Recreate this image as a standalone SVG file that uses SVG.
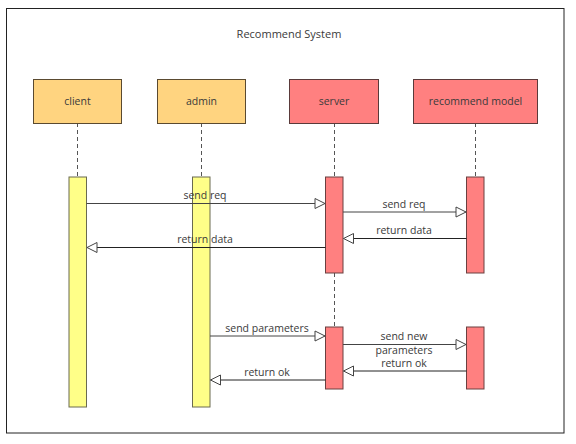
<svg xmlns="http://www.w3.org/2000/svg" width="576" height="444" viewBox="0 0 576 444">
  <style>
    text { font-family: "Open Sans", "Noto Sans", "Liberation Sans", sans-serif; font-size: 10.5px; fill: #3a3a3a; }
    .title { font-size: 11px; }
    .mid { text-anchor: middle; }
    .actor-a { fill: #ffd480; stroke: #5a4a30; stroke-width: 1; }
    .actor-b { fill: #ff8080; stroke: #5a3a3a; stroke-width: 1; }
    .bar-a { fill: #ffff88; stroke: #6a6a50; stroke-width: 1; }
    .bar-b { fill: #ff8080; stroke: #6a4040; stroke-width: 1; }
    .life { stroke: #555; stroke-width: 1; stroke-dasharray: 4 3; fill: none; }
    .msg { stroke: #444; stroke-width: 1; fill: none; marker-end: url(#open); }
    .ret { stroke: #222; stroke-width: 1; fill: none; marker-end: url(#open); }
  </style>
  <defs>
    <marker id="open" viewBox="0 0 12 12" refX="11" refY="6" markerWidth="12" markerHeight="12" markerUnits="userSpaceOnUse" orient="auto">
      <path d="M1,1 L11,6 L1,11 Z" fill="#fff" stroke="#444" stroke-width="1"/>
    </marker>
  </defs>

  <rect width="576" height="444" fill="#fff"/>
  <!-- frame -->
  <rect x="6.5" y="8.5" width="557.5" height="424.5" fill="none" stroke="#222" stroke-width="1"/>
  <text class="title mid" x="289" y="38">Recommend System</text>

  <!-- lifelines -->
  <g id="lifelines">
    <line class="life" x1="77.5" y1="123" x2="77.5" y2="177"/>
    <line class="life" x1="201.5" y1="123" x2="201.5" y2="177"/>
    <line class="life" x1="334.5" y1="123" x2="334.5" y2="177"/>
    <line class="life" x1="334.5" y1="273" x2="334.5" y2="327"/>
    <line class="life" x1="475.5" y1="123" x2="475.5" y2="177"/>
  </g>

  <g id="client">
    <rect class="actor-a" x="33.5" y="79.5" width="88" height="44"/>
    <text class="mid" x="77.5" y="105">client</text>
    <rect class="bar-a" x="69" y="177" width="17.5" height="230"/>
  </g>
  <g id="admin">
    <rect class="actor-a" x="157.5" y="79.5" width="88" height="44"/>
    <text class="mid" x="201.5" y="105">admin</text>
    <rect class="bar-a" x="192.5" y="177" width="17.5" height="230"/>
  </g>
  <g id="server">
    <rect class="actor-b" x="289.5" y="79.5" width="89" height="44"/>
    <text class="mid" x="334" y="105">server</text>
    <rect class="bar-b" x="325.5" y="177" width="17.5" height="96"/>
    <rect class="bar-b" x="325.5" y="327" width="17.5" height="62"/>
  </g>
  <g id="recommend-model">
    <rect class="actor-b" x="413.5" y="79.5" width="124" height="44"/>
    <text class="mid" x="475.5" y="105">recommend model</text>
    <rect class="bar-b" x="466.5" y="177" width="17.5" height="96"/>
    <rect class="bar-b" x="466.5" y="327" width="17.5" height="62"/>
  </g>

  <!-- messages -->
  <g id="connectors">
    <line class="msg" x1="86.5" y1="203.5" x2="325" y2="203.5"/>
    <line class="ret" x1="325.5" y1="247.5" x2="87" y2="247.5"/>
    <line class="msg" x1="343" y1="212" x2="466" y2="212"/>
    <line class="ret" x1="466.5" y1="238.5" x2="343.5" y2="238.5"/>
    <line class="msg" x1="210" y1="336" x2="325" y2="336"/>
    <line class="ret" x1="325.5" y1="380" x2="210.5" y2="380"/>
    <line class="msg" x1="343" y1="344.5" x2="466" y2="344.5"/>
    <line class="ret" x1="466.5" y1="371" x2="343.5" y2="371"/>
  </g>

  <g id="labels">
    <text class="mid" x="205" y="199">send req</text>
    <text class="mid" x="205" y="243">return data</text>
    <text class="mid" x="404" y="207.5">send req</text>
    <text class="mid" x="404" y="234">return data</text>
    <text class="mid" x="267" y="332">send parameters</text>
    <text class="mid" x="267" y="375.5">return ok</text>
    <text class="mid" x="404" y="340">send new</text>
    <text class="mid" x="404" y="354">parameters</text>
    <text class="mid" x="404" y="366.5">return ok</text>
  </g>
</svg>
